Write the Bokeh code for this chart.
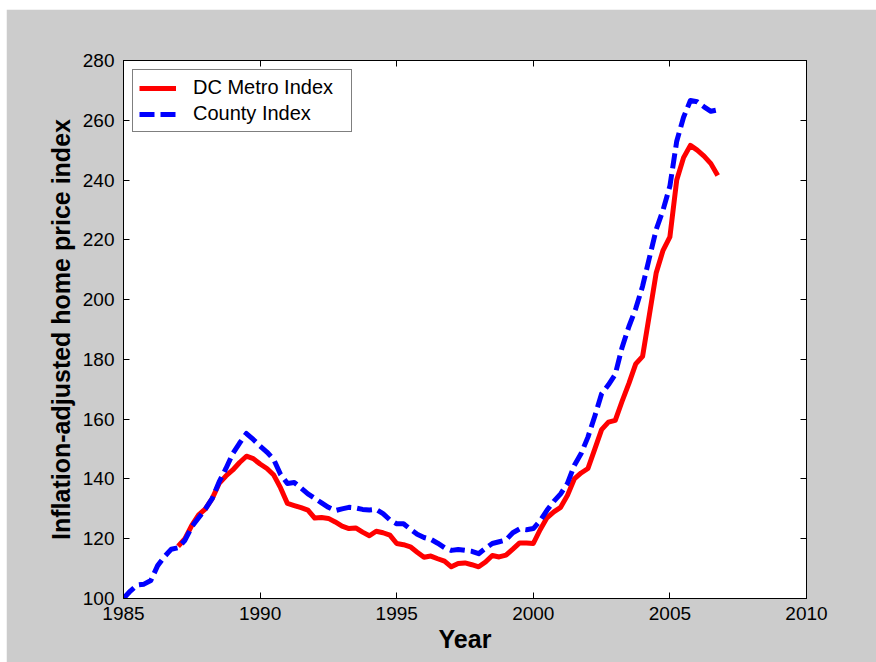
import numpy as np
from bokeh.plotting import figure
from bokeh.models import Range1d, FixedTicker, LinearAxis, Legend, LegendItem, Spacer
from bokeh.layouts import column, row
from bokeh.embed import file_html
from bokeh.resources import INLINE

# ---- data (quarterly) ----
county_start = 1985.0
county_index = [
    100, 102.5, 104.5, 104.8,
    106, 111, 114, 116.5,
    117, 119.5, 124, 127,
    130, 133.5, 139, 143.5,
    148.5, 152, 155.2, 153.2,
    151, 149, 146.5, 141.5,
    138.5, 138.8, 137, 135,
    133.5, 132, 130.5, 129.4,
    130, 130.5, 130.3, 129.8,
    129.6, 129.8, 128.4, 126.3,
    125, 125, 123.2, 121.5,
    120.4, 119.8, 118.5, 117,
    116.1, 116.4, 116.1, 115.8,
    115, 116.8, 118.4, 119,
    119.6, 122, 123.3, 123,
    123.4, 126, 129.5, 132.5,
    135, 138.5, 144.5, 148.5,
    154, 161, 168.5, 171.5,
    175, 184, 191, 197,
    204.5, 214, 223.5, 230,
    238, 253, 261, 266.6,
    266.2, 264.5, 263, 263.5,
]
dc_start = 1987.0
dc_metro_index = [
    117.5, 120, 124.5, 128,
    130, 133.5, 138.5, 141,
    143, 145.5, 147.6, 146.8,
    145, 143.5, 141.3, 137,
    131.8, 131.1, 130.4, 129.6,
    126.9, 127.1, 126.8, 125.6,
    124.2, 123.4, 123.6, 122.2,
    121, 122.5, 122, 121.2,
    118.4, 118, 117.3, 115.5,
    113.8, 114.2, 113.3, 112.5,
    110.6, 111.7, 111.9, 111.3,
    110.6, 112.2, 114.4, 113.9,
    114.5, 116.5, 118.6, 118.6,
    118.4, 123, 127, 129,
    130.5, 134.5, 140, 142,
    143.5, 150, 156.5, 159,
    159.6, 166, 172, 178.5,
    181, 195, 209, 216.5,
    221, 240, 247.5, 251.6,
    250, 248, 245.5, 241.5,
]
county_years = county_start + 0.25 * np.arange(len(county_index))
dc_years = dc_start + 0.25 * np.arange(len(dc_metro_index))

x_ticks = [1985, 1990, 1995, 2000, 2005, 2010]
y_ticks = [100, 120, 140, 160, 180, 200, 220, 240, 260, 280]
series_labels = ["DC Metro Index", "County Index"]
x_title = "Year"
y_title = "Inflation-adjusted home price index"

GRAY = "#cccccc"
TICK_FONT = "Liberation Sans"
TEXT_FONT = "Liberation Sans"

p = figure(width=870, height=653, output_backend="svg", toolbar_location=None,
           x_range=Range1d(1985, 2010), y_range=Range1d(100, 280),
           min_border_left=117, min_border_right=70, min_border_top=51,
           min_border_bottom=64, x_axis_label=x_title, y_axis_label=y_title)
p.background_fill_color = "white"
p.border_fill_color = GRAY
p.grid.visible = False
p.outline_line_color = "black"
p.outline_line_width = 1

r_dc = p.line(dc_years, dc_metro_index, line_color="#ff0000", line_width=5,
              line_join="round")
r_co = p.line(county_years, county_index, line_color="#0000ff", line_width=5,
              line_dash="15 6", line_join="round")

for ax, ticks in ((p.xaxis[0], x_ticks), (p.yaxis[0], y_ticks)):
    ax.ticker = FixedTicker(ticks=ticks)
    ax.major_tick_in = 6
    ax.major_tick_out = 0
    ax.minor_tick_line_color = None
    ax.axis_line_color = "black"
    ax.major_tick_line_color = "black"
    ax.major_label_text_font = TICK_FONT
    ax.major_label_text_font_size = "19px"
    ax.major_label_text_color = "black"
    ax.axis_label_text_font = TEXT_FONT
    ax.axis_label_text_font_size = "25px"
    ax.axis_label_text_font_style = "bold"
    ax.axis_label_text_color = "black"

p.xaxis[0].major_label_standoff = 8
p.xaxis[0].axis_label_standoff = 2
p.yaxis[0].major_label_standoff = 9
p.yaxis[0].axis_label_standoff = 5

top_ax = LinearAxis(ticker=FixedTicker(ticks=x_ticks))
right_ax = LinearAxis(ticker=FixedTicker(ticks=y_ticks))
for ax in (top_ax, right_ax):
    ax.major_tick_in = 6
    ax.major_tick_out = 0
    ax.minor_tick_line_color = None
    ax.major_label_text_color = None
    ax.major_label_text_font_size = "10px"
    ax.major_label_standoff = 0
    ax.axis_line_color = "black"
    ax.major_tick_line_color = "black"
p.add_layout(top_ax, "above")
p.add_layout(right_ax, "right")

legend = Legend(items=[LegendItem(label=series_labels[0], renderers=[r_dc]),
                       LegendItem(label=series_labels[1], renderers=[r_co])],
                location="top_left", margin=9, padding=6, spacing=3,
                glyph_width=37, glyph_height=22, label_height=22,
                label_width=152, label_standoff=17,
                label_text_font=TEXT_FONT, label_text_font_size="20px",
                label_text_color="black",
                border_line_color="black", border_line_width=1,
                background_fill_color="white", background_fill_alpha=1.0)
p.add_layout(legend)

layout = column(Spacer(height=9), row(Spacer(width=6), p))
open("out.html", "w").write(file_html(layout, INLINE))
